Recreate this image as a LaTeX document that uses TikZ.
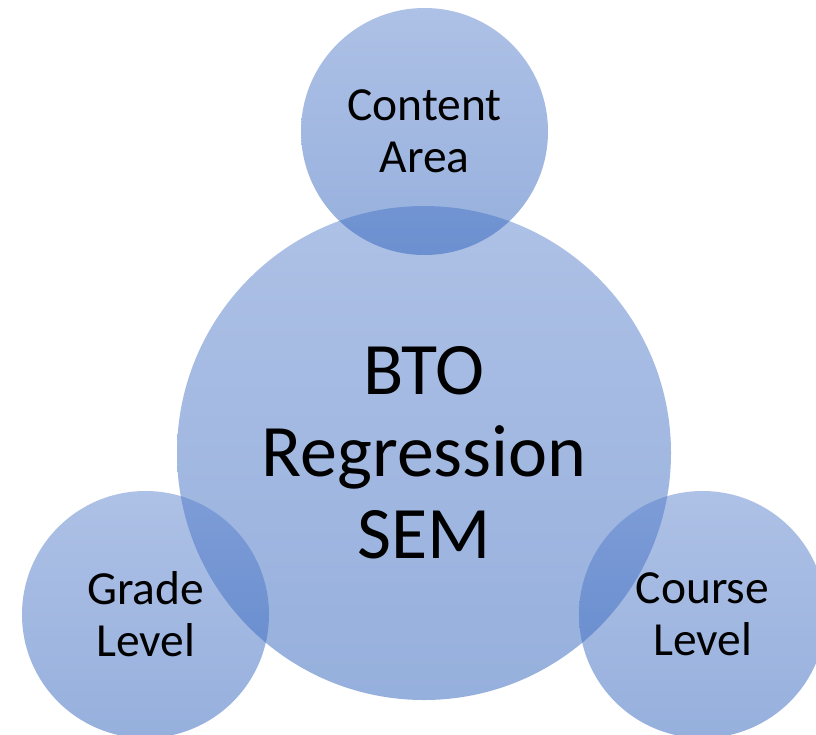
\documentclass[tikz,border=0pt]{standalone}
\usepackage{fontspec}
\setmainfont{Carlito}
\begin{document}
\begin{tikzpicture}[x=1pt,y=-1pt,
  blob/.style={circle, inner sep=0pt, fill opacity=0.5, text opacity=1,
    top color=blobtop, bottom color=blobbot, shading angle=0, align=center},
  smalltext/.style={font=\fontsize{47.5}{52}\selectfont},
  bigtext/.style={font=\fontsize{74}{82}\selectfont}]
\definecolor{blobtop}{RGB}{93,131,205}
\definecolor{blobbot}{RGB}{45,97,187}
\useasboundingbox (0,0) rectangle (816,734);
\clip (0,0) rectangle (816,734);
\node[blob, minimum size=494pt, bigtext] (core) at (424,453) {BTO\\Regression\\SEM};
\node[blob, minimum size=247pt, smalltext] (content) at (424.5,131.5) {Content\\Area};
\node[blob, minimum size=247pt, smalltext] (grade) at (145.5,614.5) {Grade\\Level};
\node[blob, minimum size=247pt, smalltext] (course) at (702.5,614.5) {Course\\Level};
\end{tikzpicture}
\end{document}
